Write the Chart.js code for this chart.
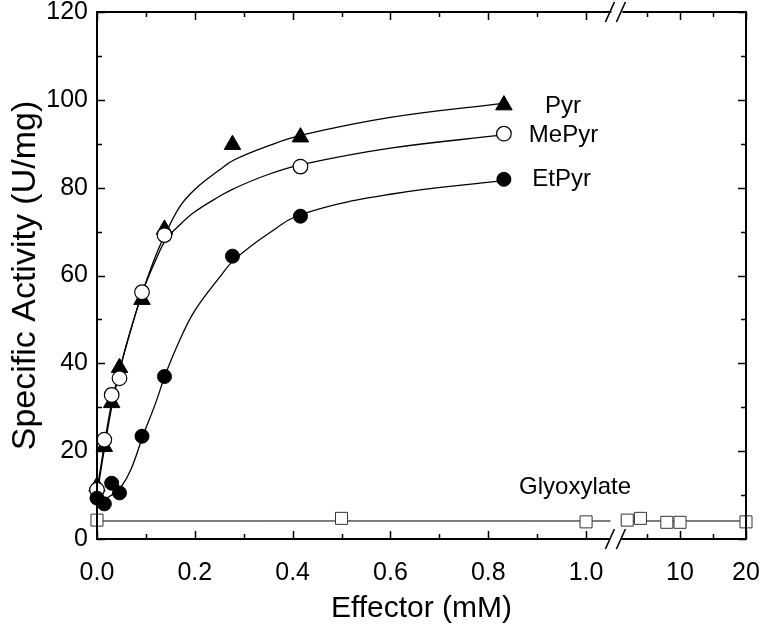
<!DOCTYPE html>
<html>
<head>
<meta charset="utf-8">
<script src="https://cdn.jsdelivr.net/npm/chart.js@4.4.1/dist/chart.umd.min.js"></script>
<style>
  html, body { margin: 0; padding: 0; background: #fff; }
  #wrap { width: 760px; height: 628px; }
</style>
</head>
<body>
<div id="wrap"><canvas id="activity" width="760" height="628"></canvas></div>
<script>
// measured points
var pyrX = [0, 0.015, 0.03, 0.046, 0.092, 0.138, 0.277, 0.416, 0.832];
var pyrY = [12, 21, 31, 39, 54.5, 70.5, 89.8, 91.5, 98.8];
var mepyrX = [0, 0.015, 0.03, 0.046, 0.092, 0.138, 0.416, 0.832];
var mepyrY = [11.2, 22.6, 32.8, 36.6, 56.2, 69.2, 84.8, 92.3];
var etpyrX = [0, 0.015, 0.03, 0.046, 0.092, 0.138, 0.277, 0.416, 0.832];
var etpyrY = [9.3, 8.0, 12.7, 10.5, 23.4, 37, 64.4, 73.5, 81.9];
var glyoxX = [0, 0.5, 1.0, 2, 4, 8, 10, 20];
var glyoxY = [4.3, 4.7, 3.9, 4.3, 4.7, 3.8, 3.8, 3.9];

// fitted curves
var fitX = [0, 0.015, 0.03, 0.05, 0.07, 0.094, 0.12, 0.14, 0.17, 0.2, 0.25, 0.28, 0.35, 0.42, 0.6, 0.83];
var pyrFit = [10, 20.5, 30, 40, 48, 56.5, 64.5, 69.5, 75.8, 79.6, 84, 86.3, 89.5, 92, 96, 99.2];
var mepyrFit = [11, 21.5, 31, 40, 48, 56.5, 63.5, 68, 71.6, 74.5, 78, 79.8, 83, 85.3, 89, 92];
var etpyrFit = [8.5, 9, 10, 12, 16, 23.5, 31, 37.5, 45.5, 52, 59.5, 63.5, 69.5, 74, 78.5, 81.6];
var glyoxFitX = [0, 1.05, 1.5, 2, 20];
var glyoxFitY = [4.1, 4.1, null, 4.1, 4.1];

// tick labels
var xMajor = [0, 0.2, 0.4, 0.6, 0.8, 1.0, 10, 20];
var xMinor = [0.1, 0.3, 0.5, 0.7, 0.9, 5, 15];
var yMajor = [0, 20, 40, 60, 80, 100, 120];
var yMinor = [10, 30, 50, 70, 90, 110];

var seriesNames = ['Pyr', 'MePyr', 'EtPyr', 'Glyoxylate'];
var nameAt = [[0.916, 98.4], [0.883, 92], [0.890, 82], [0.863, 11.8]];

// broken x axis: 0..1 linear, then 0..20 squeezed after the break
var BREAK_AT = 1.06;
var POST0 = 1.0572;
var POSTK = 0.01349;
function bx(v) { return v <= 1.05 ? v : POST0 + v * POSTK; }
function unbx(p) { return p <= 1.05 ? p : (p - POST0) / POSTK; }

function pts(xs, ys) {
    return xs.map(function(x, i) { return {x: bx(x), y: ys[i]}; });
}

var FONT = 'Liberation Sans, Arial, Helvetica, sans-serif';

var framePlugin = {
    id: 'frame',
    afterDraw: function(chart) {
        var c = chart.ctx, a = chart.chartArea;
        var xs = chart.scales.x, ys = chart.scales.y;
        var bp = xs.getPixelForValue(BREAK_AT);
        c.save();
        c.strokeStyle = '#000';
        c.lineWidth = 2;
        c.beginPath();
        c.moveTo(bp - 6, a.bottom); c.lineTo(a.left, a.bottom); c.lineTo(a.left, a.top); c.lineTo(bp - 4, a.top);
        c.moveTo(bp + 7, a.top); c.lineTo(a.right, a.top); c.lineTo(a.right, a.bottom); c.lineTo(bp + 5, a.bottom);
        c.stroke();

        // ticks, inward on all sides
        c.lineWidth = 1.5;
        c.beginPath();
        function xt(list, len) {
            list.forEach(function(v) {
                var p = Math.round(xs.getPixelForValue(bx(v))) + 0.5;
                c.moveTo(p, a.bottom); c.lineTo(p, a.bottom - len);
                c.moveTo(p, a.top); c.lineTo(p, a.top + len);
            });
        }
        function yt(list, len) {
            list.forEach(function(v) {
                var p = Math.round(ys.getPixelForValue(v)) + 0.5;
                c.moveTo(a.left, p); c.lineTo(a.left + len, p);
                c.moveTo(a.right, p); c.lineTo(a.right - len, p);
            });
        }
        xt(xMajor, 8); xt(xMinor, 5);
        yt(yMajor, 8); yt(yMinor, 5);
        c.stroke();

        // break marks
        c.lineWidth = 1.6;
        c.beginPath();
        [a.bottom, a.top].forEach(function(yy) {
            [-5.5, 5.5].forEach(function(off) {
                c.moveTo(bp + off - 4.5, yy + 10);
                c.lineTo(bp + off + 4.5, yy - 10);
            });
        });
        c.stroke();

        // series names
        c.fillStyle = '#000';
        c.font = '24px ' + FONT;
        c.textAlign = 'left';
        c.textBaseline = 'middle';
        seriesNames.forEach(function(n, i) {
            c.fillText(n, xs.getPixelForValue(nameAt[i][0]), ys.getPixelForValue(nameAt[i][1]));
        });
        c.restore();
    }
};

var ctx = document.getElementById('activity');
var myChart = new Chart(ctx, {
    type: 'scatter',
    data: {
        datasets: [
            {
                label: 'EtPyr',
                data: pts(etpyrX, etpyrY),
                pointStyle: 'circle',
                pointRadius: 7,
                backgroundColor: '#000',
                borderColor: '#000',
                borderWidth: 1
            },
            {
                label: 'MePyr',
                data: pts(mepyrX, mepyrY),
                pointStyle: 'circle',
                pointRadius: 7.3,
                backgroundColor: '#fff',
                borderColor: '#000',
                borderWidth: 1.2
            },
            {
                label: 'Pyr',
                data: pts(pyrX, pyrY),
                pointStyle: 'triangle',
                pointRadius: 9.5,
                backgroundColor: '#000',
                borderColor: '#000',
                borderWidth: 1
            },
            {
                label: 'Glyoxylate',
                data: pts(glyoxX, glyoxY),
                pointStyle: 'rect',
                pointRadius: 8.5,
                backgroundColor: '#fff',
                borderColor: '#333',
                borderWidth: 1
            },
            {
                label: 'Pyr fit',
                data: pts(fitX, pyrFit),
                showLine: true,
                pointRadius: 0,
                borderColor: '#000',
                borderWidth: 1.3,
                tension: 0.4
            },
            {
                label: 'MePyr fit',
                data: pts(fitX, mepyrFit),
                showLine: true,
                pointRadius: 0,
                borderColor: '#000',
                borderWidth: 1.3,
                tension: 0.4
            },
            {
                label: 'EtPyr fit',
                data: pts(fitX, etpyrFit),
                showLine: true,
                pointRadius: 0,
                borderColor: '#000',
                borderWidth: 1.3,
                tension: 0.4
            },
            {
                label: 'Glyoxylate fit',
                data: pts(glyoxFitX, glyoxFitY),
                showLine: true,
                spanGaps: false,
                pointRadius: 0,
                borderColor: '#000',
                borderWidth: 1
            }
        ]
    },
    options: {
        responsive: false,
        animation: false,
        events: [],
        clip: false,
        layout: { padding: { top: 12, right: 14, left: 0, bottom: 0 } },
        plugins: {
            legend: { display: false },
            tooltip: { enabled: false }
        },
        scales: {
            x: {
                type: 'linear',
                min: 0,
                max: bx(20),
                border: { display: false },
                grid: { display: false, drawTicks: false },
                afterBuildTicks: function(scale) {
                    scale.ticks = xMajor.map(function(v) { return {value: bx(v)}; });
                },
                afterFit: function(scale) {
                    scale.height = 89;
                    scale.paddingLeft = 0;
                    scale.paddingRight = 0;
                },
                ticks: {
                    autoSkip: false,
                    maxRotation: 0,
                    padding: 19,
                    color: '#000',
                    font: { family: FONT, size: 25 },
                    callback: function(v) {
                        return v <= 1.05 ? v.toFixed(1) : String(Math.round(unbx(v)));
                    }
                },
                title: {
                    display: true,
                    text: 'Effector (mM)',
                    color: '#000',
                    font: { family: FONT, size: 30 },
                    padding: { top: 0, bottom: 1 }
                }
            },
            y: {
                min: 0,
                max: 120,
                border: { display: false },
                grid: { display: false, drawTicks: false },
                afterFit: function(scale) {
                    scale.width = 97;
                    scale.paddingTop = 0;
                    scale.paddingBottom = 0;
                },
                ticks: {
                    stepSize: 20,
                    padding: 9,
                    color: '#000',
                    font: { family: FONT, size: 25 }
                },
                title: {
                    display: true,
                    text: 'Specific Activity (U/mg)',
                    color: '#000',
                    font: { family: FONT, size: 34 },
                    padding: { top: 5, bottom: 0 }
                }
            }
        }
    },
    plugins: [framePlugin]
});
</script>
</body>
</html>
